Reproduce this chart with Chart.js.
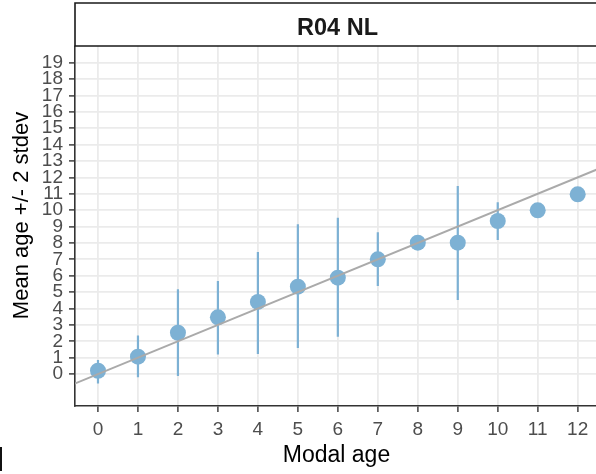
<!DOCTYPE html>
<html>
<head>
<meta charset="utf-8">
<script src="https://cdn.jsdelivr.net/npm/chart.js@4.4.1/dist/chart.umd.min.js"></script>
<style>
  html, body { margin: 0; padding: 0; background: #ffffff; }
  #wrap { width: 596px; height: 474px; position: relative; }
</style>
</head>
<body>
<div id="wrap"><canvas id="c" width="596" height="474"></canvas></div>
<script>
// ---- data ----
const stripLabel = "R04 NL";
const xTitle = "Modal age";
const yTitle = "Mean age +/- 2 stdev";
const modalAge = [0, 1, 2, 3, 4, 5, 6, 7, 8, 9, 10, 11, 12];
const meanAge  = [0.2, 1.06, 2.52, 3.46, 4.4, 5.33, 5.88, 7.0, 8.02, 8.02, 9.34, 9.99, 10.97];
const lowerSd  = [-0.57, -0.2, -0.12, 1.2, 1.22, 1.59, 2.28, 5.37, null, 4.52, 8.18, null, null];
const upperSd  = [0.85, 2.36, 5.17, 5.68, 7.45, 9.14, 9.54, 8.65, null, 11.48, 10.48, null, null];
const xTicks = [0, 1, 2, 3, 4, 5, 6, 7, 8, 9, 10, 11, 12];
const yTicks = [0, 1, 2, 3, 4, 5, 6, 7, 8, 9, 10, 11, 12, 13, 14, 15, 16, 17, 18, 19];
const refLine = [-0.6, 12.6]; // identity line y = x

// ---- build datasets ----
const pointData = modalAge.map((x, i) => ({ x: x, y: meanAge[i] }));
const barData = [];
modalAge.forEach((x, i) => {
  if (lowerSd[i] !== null && upperSd[i] !== null) {
    barData.push({ x: x, y: lowerSd[i] });
    barData.push({ x: x, y: upperSd[i] });
    barData.push({ x: x, y: null });
  }
});
const lineData = refLine.map(v => ({ x: v, y: v }));

const FONT = "'Liberation Sans', Arial, sans-serif";
const BLUE = '#7db1d4';

const decor = {
  id: 'decor',
  afterDraw(chart) {
    const ctx = chart.ctx;
    const area = chart.chartArea;
    ctx.save();
    // facet strip
    ctx.fillStyle = '#ffffff';
    ctx.fillRect(area.left - 0.5, 3, 700, area.top - 3);
    ctx.strokeStyle = '#1a1a1a';
    ctx.lineWidth = 1.6;
    ctx.beginPath();
    ctx.moveTo(area.left, area.top);
    ctx.lineTo(area.left, 3);
    ctx.lineTo(700, 3);
    ctx.moveTo(area.left - 0.8, area.top);
    ctx.lineTo(700, area.top);
    ctx.stroke();
    ctx.fillStyle = '#1a1a1a';
    ctx.font = "bold 23.5px " + FONT;
    ctx.textAlign = 'center';
    ctx.textBaseline = 'alphabetic';
    ctx.fillText(stripLabel, 337.5, 34.5);
    // axis titles
    ctx.fillStyle = '#000000';
    ctx.font = "23px " + FONT;
    ctx.fillText(xTitle, 336.5, 462);
    ctx.save();
    ctx.font = "22px " + FONT;
    ctx.translate(28.3, 215.5);
    ctx.rotate(-Math.PI / 2);
    ctx.fillText(yTitle, 0, 0);
    ctx.restore();
    // small cropped mark at the lower-left corner
    ctx.strokeStyle = '#111111';
    ctx.lineWidth = 2;
    ctx.beginPath();
    ctx.moveTo(1, 447);
    ctx.lineTo(1, 471);
    ctx.stroke();
    ctx.restore();
  }
};

new Chart(document.getElementById('c'), {
  type: 'scatter',
  data: {
    datasets: [
      {
        label: 'identity',
        data: lineData,
        showLine: true,
        borderColor: '#aaaaaa',
        borderWidth: 2,
        pointRadius: 0,
        order: 0
      },
      {
        label: 'mean',
        data: pointData,
        backgroundColor: BLUE,
        borderColor: BLUE,
        borderWidth: 0,
        pointRadius: 8,
        pointHoverRadius: 8,
        order: 1
      },
      {
        label: 'range',
        data: barData,
        showLine: true,
        spanGaps: false,
        borderColor: BLUE,
        borderWidth: 2.2,
        pointRadius: 0,
        order: 2
      }
    ]
  },
  options: {
    responsive: false,
    animation: false,
    events: [],
    layout: { autoPadding: false, padding: { top: 46, left: 0, right: 0, bottom: 0 } },
    plugins: { legend: { display: false }, tooltip: { enabled: false }, title: { display: false } },
    scales: {
      x: {
        type: 'linear',
        min: -0.575,
        max: 12.458,
        afterBuildTicks(scale) { scale.ticks = xTicks.map(v => ({ value: v })); },
        afterFit(scale) { scale.height = 68; scale.paddingLeft = 0; scale.paddingRight = 0; },
        grid: { color: '#ebebeb', lineWidth: 1.8, tickColor: '#333333', tickLength: 6, tickWidth: 1.4 },
        border: { display: true, color: '#333333', width: 1.6 },
        ticks: { color: '#4d4d4d', font: { family: FONT, size: 19 }, padding: 6, maxRotation: 0, autoSkip: false }
      },
      y: {
        type: 'linear',
        min: -1.95,
        max: 20.02,
        afterBuildTicks(scale) { scale.ticks = yTicks.map(v => ({ value: v })); },
        afterFit(scale) { scale.width = 75; scale.paddingTop = 0; scale.paddingBottom = 0; },
        grid: { color: '#ebebeb', lineWidth: 1.8, tickColor: '#333333', tickLength: 6, tickWidth: 1.4 },
        border: { display: true, color: '#333333', width: 1.6 },
        ticks: { color: '#4d4d4d', font: { family: FONT, size: 19 }, padding: 6, autoSkip: false }
      }
    }
  },
  plugins: [decor]
});
</script>
</body>
</html>
